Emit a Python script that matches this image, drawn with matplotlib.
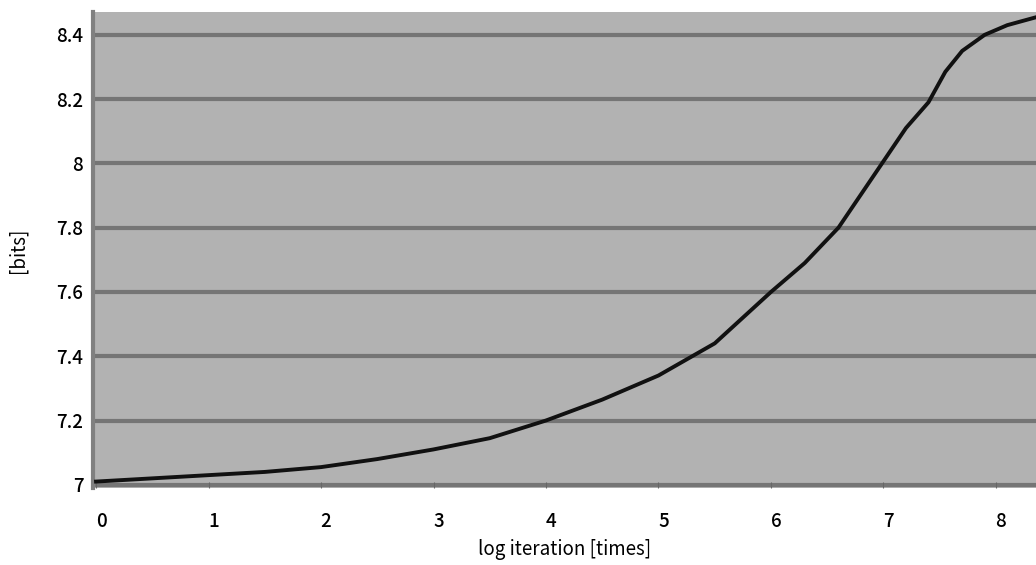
import matplotlib.pyplot as plt
import matplotlib.transforms as mtransforms

plt.rcParams['font.family'] = ['Noto Sans CJK JP', 'DejaVu Sans']
plt.rcParams['font.weight'] = 'medium'

# values
log_iter = [0.0, 0.5, 1.0, 1.5, 2.0, 2.5, 3.0, 3.5, 4.0, 4.5, 5.0, 5.3, 5.5,
            6.0, 6.3, 6.6, 6.9, 7.2, 7.4, 7.55, 7.7, 7.9, 8.1, 8.36]
bits = [7.01, 7.02, 7.03, 7.04, 7.055, 7.08, 7.11, 7.145, 7.20, 7.265, 7.34,
        7.40, 7.44, 7.60, 7.69, 7.80, 7.955, 8.11, 8.19, 8.285, 8.35, 8.40,
        8.43, 8.455]
x_ticks = [0, 1, 2, 3, 4, 5, 6, 7, 8]
y_ticks = [7.0, 7.2, 7.4, 7.6, 7.8, 8.0, 8.2, 8.4]
y_labels = ['7', '7.2', '7.4', '7.6', '7.8', '8', '8.2', '8.4']

fig = plt.figure(figsize=(10.36, 5.65), dpi=100)
ax = fig.add_axes([93 / 1036, 77 / 565, 943 / 1036, 476 / 565])
ax.set_facecolor('#b2b2b2')

for y in y_ticks:
    ax.axhline(y, color='#757575', lw=3.0, zorder=1)

ax.plot(log_iter, bits, color='#111111', lw=2.8, zorder=3)

ax.set_xlim(-0.027, 8.356)
ax.set_ylim(6.99, 8.471)
ax.set_xticks(x_ticks)
ax.set_yticks(y_ticks)
ax.set_yticklabels(y_labels)
ax.tick_params(axis='y', length=0, pad=7, labelsize=13.5)
ax.tick_params(axis='x', length=4, direction='in', color='#666666', pad=17, labelsize=13.5)
# labels sit a little right of their ticks in the original
offset = mtransforms.ScaledTranslation(5 / 100, 0, fig.dpi_scale_trans)
for lab in ax.get_xticklabels():
    lab.set_transform(lab.get_transform() + offset)

for s in ['top', 'right', 'bottom']:
    ax.spines[s].set_visible(False)
ax.spines['left'].set_color('#808080')
ax.spines['left'].set_linewidth(3)

ax.set_xlabel('log iteration [times]', fontsize=13.5, labelpad=6)
ax.set_ylabel('[bits]', fontsize=13.5, labelpad=20)

fig.savefig('out.png', dpi=100)
